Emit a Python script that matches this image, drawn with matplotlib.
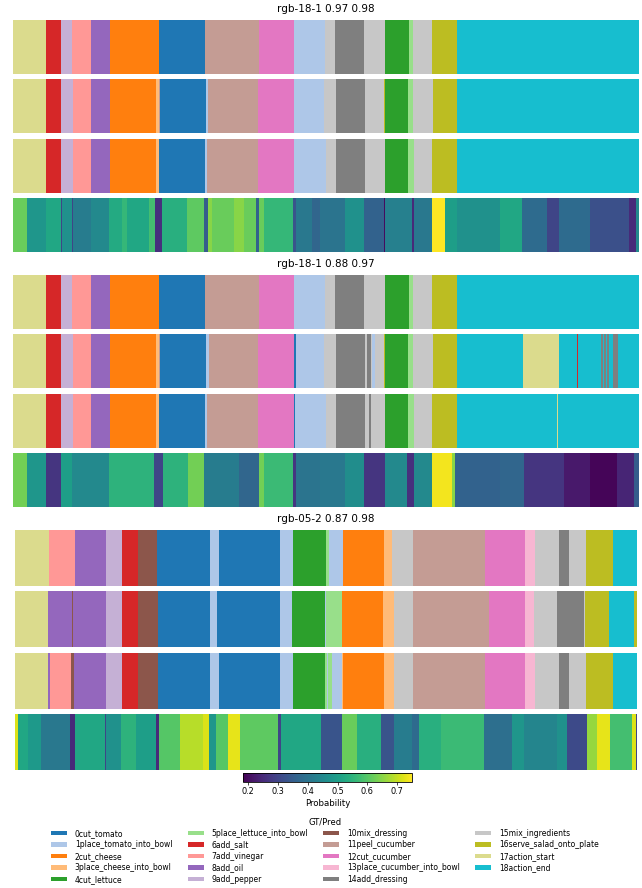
import numpy as np
import matplotlib
matplotlib.use("Agg")
import matplotlib.pyplot as plt
from matplotlib.colors import ListedColormap
from matplotlib.patches import Patch

plt.rcParams['font.family'] = ['DejaVu Sans']

# ---------------- data ----------------
class_names = ["0cut_tomato", "1place_tomato_into_bowl", "2cut_cheese", "3place_cheese_into_bowl",
               "4cut_lettuce", "5place_lettuce_into_bowl", "6add_salt", "7add_vinegar", "8add_oil",
               "9add_pepper", "10mix_dressing", "11peel_cucumber", "12cut_cucumber",
               "13place_cucumber_into_bowl", "14add_dressing", "15mix_ingredients",
               "16serve_salad_onto_plate", "17action_start", "18action_end"]

titles = ["rgb-18-1 0.97 0.98", "rgb-18-1 0.88 0.97", "rgb-05-2 0.87 0.98"]

# segment labels and lengths (frames) ------------------------------------
gt1_labels = [17, 6, 9, 7, 8, 2, 0, 11, 12, 1, 15, 14, 15, 4, 5, 15, 16, 18]
gt1_lengths = [67, 30, 22, 38, 38, 98, 92, 108, 70, 62, 20, 58, 42, 47, 9, 37, 50, 364]

p1a_labels = [17, 6, 9, 7, 8, 2, 3, 11, 0, 1, 11, 12, 1, 15, 14, 15, 16, 4, 5, 15, 16, 18]
p1a_lengths = [67, 29, 25, 36, 37, 93, 5, 3, 91, 4, 101, 71, 61, 23, 58, 39, 2, 46, 10, 39, 49, 363]

p1b_labels = [17, 6, 9, 7, 8, 2, 3, 0, 1, 11, 12, 1, 15, 14, 15, 4, 5, 15, 16, 18]
p1b_lengths = [67, 29, 25, 36, 37, 93, 5, 93, 3, 103, 71, 64, 20, 58, 40, 47, 11, 37, 50, 363]

gt2_labels = gt1_labels
gt2_lengths = gt1_lengths

p2a_labels = [17, 6, 9, 7, 8, 2, 3, 11, 0, 1, 11, 12, 0, 1, 15, 14, 15, 14, 15, 1, 15, 16, 4, 5,
              15, 16, 18, 17, 18, 6, 18, 14, 18, 14, 18, 14, 18, 14, 18]
p2a_lengths = [67, 29, 25, 36, 37, 93, 5, 3, 91, 6, 99, 71, 4, 57, 23, 58, 4, 8, 3, 5, 19, 2, 46, 10,
               39, 49, 132, 72, 36, 2, 46, 3, 3, 3, 2, 5, 7, 11, 41]

p2b_labels = [17, 6, 9, 7, 8, 2, 3, 0, 1, 11, 12, 0, 1, 15, 14, 15, 14, 15, 4, 5, 15, 16, 18, 17, 18]
p2b_lengths = [67, 29, 25, 36, 37, 93, 5, 93, 3, 103, 71, 3, 61, 20, 58, 8, 4, 28, 47, 11, 37, 50,
               200, 2, 161]

gt3_labels = [17, 7, 8, 9, 6, 10, 0, 1, 0, 1, 4, 5, 1, 2, 3, 15, 11, 12, 13, 15, 14, 15, 16, 18]
gt3_lengths = [69, 51, 62, 32, 32, 39, 105, 18, 122, 26, 66, 6, 29, 81, 16, 42, 145, 79, 20, 48, 20,
               35, 54, 47]

p3a_labels = [17, 8, 10, 8, 9, 6, 10, 0, 1, 0, 1, 4, 1, 5, 2, 3, 15, 11, 12, 13, 15, 14, 15, 16,
              18, 16]
p3a_lengths = [67, 47, 3, 65, 32, 32, 40, 104, 15, 125, 24, 66, 3, 31, 83, 21, 38, 153, 72, 17, 47,
               53, 3, 48, 50, 5]

p3b_labels = [17, 8, 7, 10, 8, 9, 6, 10, 0, 1, 0, 1, 4, 5, 1, 5, 1, 3, 2, 3, 15, 11, 12, 13, 15,
              14, 15, 16, 18]
p3b_lengths = [67, 3, 43, 5, 64, 32, 32, 40, 104, 18, 122, 26, 64, 4, 3, 7, 20, 3, 81, 20, 38, 145,
               79, 20, 48, 20, 35, 54, 47]

# probability rows: values and end frame of each block
prob1_values = [0.62, 0.48, 0.52, 0.30, 0.47, 0.30, 0.42, 0.45, 0.53, 0.56, 0.52, 0.58, 0.26, 0.54,
                0.61, 0.35, 0.65, 0.62, 0.65, 0.62, 0.36, 0.62, 0.56, 0.33, 0.41, 0.37, 0.40, 0.47,
                0.36, 0.20, 0.43, 0.25, 0.41, 0.75, 0.50, 0.47, 0.52, 0.38, 0.30, 0.38, 0.32, 0.25,
                0.45]
prob1_ends = [29, 67, 97, 99, 119, 121, 157, 193, 219, 229, 273, 285, 299, 349, 383, 390, 399, 443,
              463, 487, 493, 503, 560, 567, 599, 615, 665, 702, 742, 745, 799, 802, 839, 865, 889,
              975, 1019, 1069, 1092, 1155, 1232, 1247, 1252]

prob2_values = [0.63, 0.48, 0.27, 0.50, 0.45, 0.55, 0.30, 0.55, 0.63, 0.42, 0.37, 0.63, 0.57, 0.27,
                0.40, 0.41, 0.46, 0.27, 0.45, 0.26, 0.45, 0.74, 0.65, 0.36, 0.37, 0.27, 0.22, 0.19,
                0.24, 0.35]
prob2_ends = [29, 67, 97, 119, 193, 283, 300, 350, 383, 453, 493, 503, 560, 567, 615, 665, 702, 745,
              789, 802, 839, 879, 885, 975, 1022, 1102, 1155, 1209, 1242, 1252]

prob3_values = [0.72, 0.52, 0.49, 0.41, 0.25, 0.52, 0.30, 0.47, 0.55, 0.50, 0.25, 0.60, 0.69, 0.72,
                0.48, 0.60, 0.73, 0.61, 0.30, 0.52, 0.33, 0.62, 0.54, 0.33, 0.42, 0.38, 0.54, 0.57,
                0.39, 0.48, 0.44, 0.47, 0.31, 0.66, 0.73, 0.58, 0.72, 0.30]
prob3_ends = [7, 27, 53, 110, 120, 180, 183, 213, 243, 283, 289, 330, 377, 389, 403, 427, 450, 527,
              533, 612, 655, 685, 732, 759, 795, 809, 852, 939, 995, 1019, 1085, 1105, 1145, 1165,
              1191, 1235, 1242, 1244]

cbar_ticks = [0.2, 0.3, 0.4, 0.5, 0.6, 0.7]

# ---------------- figure ----------------
W, H = 642, 888
fig = plt.figure(figsize=(W / 100, H / 100), dpi=100)

label_cmap = ListedColormap(plt.cm.tab20.colors[:19])
prob_norm = matplotlib.colors.Normalize(vmin=0.182, vmax=0.75)

groups = [
    dict(x=(13.3, 639.3), rows=[(20, 74), (79.3, 133.3), (138.7, 192.7), (198, 252)], ty=9.3,
         segs=[(gt1_labels, gt1_lengths), (p1a_labels, p1a_lengths), (p1b_labels, p1b_lengths)],
         prob=(prob1_values, prob1_ends)),
    dict(x=(13.3, 639.3), rows=[(275, 329), (334, 388), (394, 448), (453, 507)], ty=264.3,
         segs=[(gt2_labels, gt2_lengths), (p2a_labels, p2a_lengths), (p2b_labels, p2b_lengths)],
         prob=(prob2_values, prob2_ends)),
    dict(x=(15, 637), rows=[(530, 586), (591.3, 647.3), (652.7, 708.7), (714, 770)], ty=519.3,
         segs=[(gt3_labels, gt3_lengths), (p3a_labels, p3a_lengths), (p3b_labels, p3b_lengths)],
         prob=(prob3_values, prob3_ends)),
]


def px_axes(x0, x1, y0, y1):
    return fig.add_axes([x0 / W, 1 - y1 / H, (x1 - x0) / W, (y1 - y0) / H])


im_prob = None
for gi, g in enumerate(groups):
    x0, x1 = g["x"]
    for ri, (labs, lens) in enumerate(g["segs"]):
        ax = px_axes(x0, x1, *g["rows"][ri])
        arr = np.repeat(labs, lens)[None, :]
        ax.imshow(arr, cmap=label_cmap, vmin=-0.5, vmax=18.5, aspect="auto",
                  interpolation="nearest")
        ax.axis("off")
    vals, ends = g["prob"]
    lens = np.diff(np.concatenate([[0], ends]))
    parr = np.repeat(vals, lens)[None, :]
    ax = px_axes(x0, x1, *g["rows"][3])
    im_prob = ax.imshow(parr, cmap="viridis", norm=prob_norm, aspect="auto",
                        interpolation="nearest")
    ax.axis("off")
    fig.text((x0 + x1) / 2 / W, 1 - g["ty"] / H, titles[gi], ha="center", va="center",
             fontsize=7.5)

# colorbar
cax = px_axes(243, 412, 773, 782)
cb = fig.colorbar(im_prob, cax=cax, orientation="horizontal", ticks=cbar_ticks)
cb.ax.tick_params(labelsize=5.9, length=2, width=0.5, pad=1.5)
cb.outline.set_linewidth(0.6)
cb.set_label("Probability", fontsize=6.2, labelpad=2)

# legend
handles = [Patch(facecolor=plt.cm.tab20.colors[i], label=class_names[i]) for i in range(19)]
leg = fig.legend(handles=handles, loc="upper center", bbox_to_anchor=(0.506, 1 - 811 / H),
                 ncol=4, fontsize=5.5, title="GT/Pred", title_fontsize=6, frameon=False,
                 handlelength=2.1, handleheight=0.6, handletextpad=1.0, columnspacing=2.0,
                 labelspacing=0.33, borderpad=0.3)

fig.savefig("out.png", dpi=100)
